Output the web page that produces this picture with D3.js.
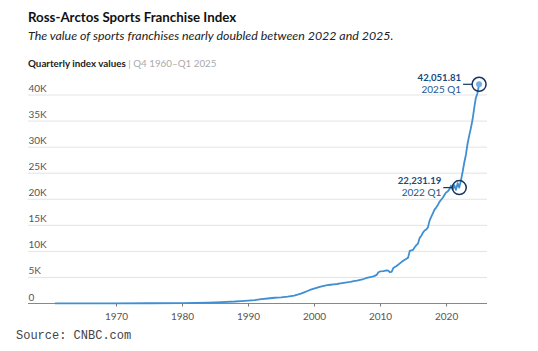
<!DOCTYPE html>
<html>
<head>
<meta charset="utf-8">
<script src="https://cdn.jsdelivr.net/npm/d3@7"></script>
<style>
  body { margin: 0; background: #fff; }
  svg { display: block; }
</style>
</head>
<body>
<div id="chart"></div>
<script>
// Quarterly index values
const periods = [
  "1960 Q4", "1965 Q1", "1970 Q1", "1975 Q1", "1980 Q1", "1982 Q1", "1984 Q1", "1986 Q1",
  "1988 Q1", "1989 Q1", "1990 Q1", "1991 Q1", "1992 Q1", "1993 Q1", "1994 Q1", "1995 Q1",
  "1996 Q1", "1997 Q1", "1997 Q3", "1998 Q1", "1998 Q3", "1999 Q1", "1999 Q3", "2000 Q1",
  "2000 Q3", "2001 Q1", "2001 Q3", "2002 Q1", "2002 Q3", "2003 Q1", "2003 Q3", "2004 Q1",
  "2004 Q3", "2005 Q1", "2005 Q3", "2006 Q1", "2006 Q3", "2007 Q1", "2007 Q3", "2008 Q1",
  "2008 Q3", "2009 Q1", "2009 Q2", "2009 Q3", "2009 Q4", "2010 Q1", "2010 Q3", "2011 Q1",
  "2011 Q2", "2011 Q3", "2011 Q4", "2012 Q1", "2012 Q3", "2013 Q1", "2013 Q3", "2014 Q1",
  "2014 Q2", "2014 Q3", "2014 Q4", "2015 Q1", "2015 Q2", "2015 Q3", "2015 Q4", "2016 Q1",
  "2016 Q2", "2016 Q3", "2016 Q4", "2017 Q1", "2017 Q2", "2017 Q3", "2017 Q4", "2018 Q1",
  "2018 Q2", "2018 Q3", "2018 Q4", "2019 Q1", "2019 Q2", "2019 Q3", "2019 Q4", "2020 Q1",
  "2020 Q2", "2020 Q3", "2020 Q4", "2021 Q1", "2021 Q2", "2021 Q3", "2021 Q4", "2022 Q1",
  "2022 Q2", "2022 Q3", "2022 Q4", "2023 Q1", "2023 Q2", "2023 Q3", "2023 Q4", "2024 Q1",
  "2024 Q2", "2024 Q3", "2024 Q4", "2025 Q1"
];
const indexValues = [
  20, 25, 35, 50, 90, 120, 180, 260,
  380, 470, 560, 640, 830, 960, 1100, 1180,
  1320, 1520, 1700, 1900, 2150, 2400, 2650, 2850,
  3050, 3250, 3400, 3520, 3600, 3680, 3740, 3850,
  3950, 4050, 4150, 4280, 4400, 4550, 4700, 4900,
  5050, 5200, 5350, 5500, 6000, 6150, 6200, 6350,
  6300, 6000, 6050, 6800, 7200, 7700, 8200, 8600,
  8800, 10100, 10200, 10300, 10800, 11200, 11500, 12600,
  13000, 13600, 14000, 14200, 14600, 15900, 16600, 17300,
  18000, 18400, 18900, 19500, 19900, 20300, 20800, 21300,
  21500, 21900, 22600, 21900, 22700, 21800, 23100, 22231.19,
  23600, 25200, 27000, 28500, 30600, 32200, 33600, 35200,
  37400, 39400, 40300, 42051.81
];

const yTicks = [0, 5000, 10000, 15000, 20000, 25000, 30000, 35000, 40000];
const xTicks = [1970, 1980, 1990, 2000, 2010, 2020];

// Highlighted points
const callouts = [
  { period: "2025 Q1", value: 42051.81 },
  { period: "2022 Q1", value: 22231.19 }
];

const width = 538, height = 351;
const plotLeft = 28, plotRight = 487, plotTop = 95, plotBottom = 303.5;

// "2010 Q3" -> 2010.5
function periodToYear(p) {
  const [yr, q] = p.split(" ");
  return +yr + (+q.slice(1) - 1) / 4;
}

const data = periods.map((p, i) => ({ t: periodToYear(p), v: indexValues[i] }));

const svg = d3.select("#chart").append("svg")
  .attr("width", width)
  .attr("height", height)
  .style("font-family", "Lato, 'Open Sans', sans-serif");

const x = d3.scaleLinear().domain([1956.67, 2026.2]).range([plotLeft, plotRight]);
const y = d3.scaleLinear().domain([0, 40000]).range([plotBottom, plotTop]);

// Titles
svg.append("text")
  .attr("x", plotLeft).attr("y", 22)
  .attr("font-size", 13.3).attr("font-weight", 700).attr("fill", "#111")
  .text("Ross-Arctos Sports Franchise Index");

svg.append("text")
  .attr("x", plotLeft).attr("y", 40)
  .attr("font-size", 12.4).attr("font-style", "italic").attr("fill", "#222")
  .text("The value of sports franchises nearly doubled between 2022 and 2025.");

const sub = svg.append("text")
  .attr("x", plotLeft).attr("y", 67)
  .attr("font-size", 9.8);
sub.append("tspan").attr("font-weight", 700).attr("fill", "#222").text("Quarterly index values");
sub.append("tspan").attr("fill", "#aaa").text(" | Q4 1960\u2013Q1 2025");

// Grid + y labels
const grid = svg.append("g");
grid.selectAll("line")
  .data(yTicks.filter(d => d > 0))
  .join("line")
  .attr("x1", plotLeft).attr("x2", plotRight)
  .attr("y1", d => y(d)).attr("y2", d => y(d))
  .attr("stroke", "#e3e3e3").attr("stroke-width", 1);

grid.selectAll("text")
  .data(yTicks)
  .join("text")
  .attr("x", plotLeft + 0.5)
  .attr("y", d => y(d) - 3)
  .attr("font-size", 10)
  .attr("fill", "#555")
  .text(d => d === 0 ? "0" : (d / 1000) + "K");

// X axis
const xAxis = svg.append("g")
  .attr("transform", `translate(0,${plotBottom})`)
  .call(d3.axisBottom(x).tickValues(xTicks).tickFormat(d3.format("d")).tickSize(3).tickPadding(6));
xAxis.select(".domain").attr("stroke", "#888").attr("d", `M${plotLeft},0H${plotRight}`);
xAxis.selectAll(".tick line").attr("stroke", "#777");
xAxis.selectAll(".tick text")
  .attr("fill", "#555")
  .attr("font-size", 10)
  .attr("font-family", "Lato, 'Open Sans', sans-serif");

// Line
const line = d3.line().x(d => x(d.t)).y(d => y(d.v));
svg.append("path")
  .datum(data)
  .attr("fill", "none")
  .attr("stroke", "#3f8fd2")
  .attr("stroke-width", 1.8)
  .attr("stroke-linejoin", "round")
  .attr("d", line);

// End dot
const last = data[data.length - 1];
svg.append("circle")
  .attr("cx", x(last.t)).attr("cy", y(last.v)).attr("r", 3)
  .attr("fill", "#6fb0e6");

// Callouts
const fmt = d3.format(",.2f");
callouts.forEach(c => {
  const cx = x(periodToYear(c.period));
  const cy = y(c.value);
  const g = svg.append("g");
  g.append("circle")
    .attr("cx", cx).attr("cy", cy).attr("r", 7)
    .attr("fill", "none").attr("stroke", "#17365d").attr("stroke-width", 1.5);
  g.append("line")
    .attr("x1", cx - 16).attr("x2", cx - 7)
    .attr("y1", cy).attr("y2", cy)
    .attr("stroke", "#17365d").attr("stroke-width", 1.2);
  g.append("text")
    .attr("x", cx - 18).attr("y", cy - 3.5)
    .attr("text-anchor", "end")
    .attr("font-size", 9.6).attr("font-weight", 700).attr("fill", "#1b4a7c")
    .text(fmt(c.value));
  g.append("text")
    .attr("x", cx - 18).attr("y", cy + 8.5)
    .attr("text-anchor", "end")
    .attr("font-size", 10).attr("fill", "#24578a")
    .text(c.period);
});

// Source
svg.append("text")
  .attr("x", 16).attr("y", 339)
  .attr("font-family", "'Liberation Mono', 'DejaVu Sans Mono', monospace")
  .attr("font-size", 12).attr("fill", "#444")
  .text("Source: CNBC.com");
</script>
</body>
</html>
